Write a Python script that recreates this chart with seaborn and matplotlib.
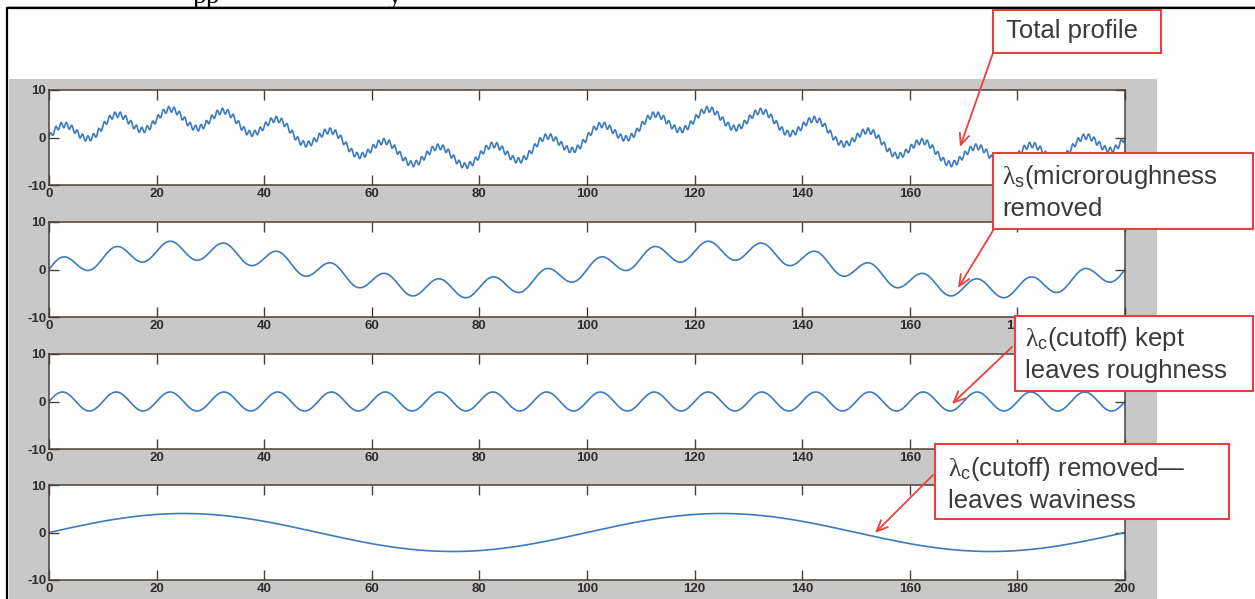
import numpy as np
import pandas as pd
import matplotlib
matplotlib.use("Agg")
import matplotlib.pyplot as plt
import seaborn as sns
from matplotlib.patches import Rectangle
from matplotlib.lines import Line2D

# Sinusoidal components of the surface profile (amplitude, wavelength)
component_names = ["waviness", "roughness", "microroughness"]
amplitudes = [4.0, 2.0, 0.6]
wavelengths = [100.0, 10.0, 1.0]

# Which components remain in each panel, top to bottom
panel_components = [[0, 1, 2], [0, 1], [1], [0]]

x_ticks = [0, 20, 40, 60, 80, 100, 120, 140, 160, 180, 200]
y_ticks = [-10, 0, 10]

callout_texts = [
    "Total profile",
    r"$\mathrm{\lambda}_{\mathsf{s}}$(microroughness" + "\nremoved",
    r"$\mathrm{\lambda}_{\mathsf{c}}$(cutoff) kept" + "\nleaves roughness",
    r"$\mathrm{\lambda}_{\mathsf{c}}$(cutoff) removed" + "\u2014\nleaves waviness",
]

# ---------------------------------------------------------------
W, H = 1255, 599
sns.set_style("ticks")
plt.rcParams["font.family"] = ["Liberation Sans", "DejaVu Sans"]
plt.rcParams["axes.unicode_minus"] = False
plt.rcParams["mathtext.fontset"] = "custom"
plt.rcParams["mathtext.rm"] = "Liberation Serif"
plt.rcParams["mathtext.sf"] = "Liberation Sans"
plt.rcParams["mathtext.it"] = "Liberation Serif:italic"

x = np.linspace(0, 200, 4001)
frames = []
for p, comps in enumerate(panel_components):
    y = np.zeros_like(x)
    for c in comps:
        y = y + amplitudes[c] * np.sin(2 * np.pi * x / wavelengths[c])
    frames.append(pd.DataFrame({"x": x, "height": y, "panel": p}))
df = pd.concat(frames, ignore_index=True)

fig = plt.figure(figsize=(W / 100, H / 100), dpi=100, facecolor="white")

# grey figure window behind the axes
fig.patches.append(Rectangle((9 / W, 0), (1157 - 9) / W, (H - 79) / H,
                             transform=fig.transFigure, facecolor="#c8c8c8",
                             edgecolor="none", zorder=-5))
# page frame lines
fig.add_artist(Line2D([7 / W, 1], [1 - 8 / H, 1 - 8 / H], color="black", lw=1.6))
fig.add_artist(Line2D([7 / W, 7 / W], [0, 1 - 8 / H], color="black", lw=1.6))
fig.add_artist(Line2D([7 / W, 1], [1 - 5.5 / H, 1 - 5.5 / H], color="#9a9a9a", lw=0.6))
# running text of the page above
fig.text(193 / W, 1 - 3 / H, "pp", family="Liberation Serif", fontsize=20,
         va="baseline", color="black")
fig.text(388 / W, 1 - 3 / H, "y", family="Liberation Serif", fontsize=20,
         va="baseline", color="black")

axes_px = [(90, 185), (222, 317), (354, 449), (485, 580)]
left, right = 49, 1125
frame_col = "#4a4038"
label_col = "#2e2e2e"

for p, (top, bottom) in enumerate(axes_px):
    ax = fig.add_axes([left / W, 1 - bottom / H, (right - left) / W, (bottom - top) / H],
                      zorder=2)
    ax.set_facecolor("white")
    sub = df[df["panel"] == p]
    sns.lineplot(data=sub, x="x", y="height", ax=ax, color="#3c7bbf",
                 lw=1.2, estimator=None)
    ax.set_xlim(0, 200)
    ax.set_ylim(-10, 10)
    ax.set_xticks(x_ticks)
    ax.set_yticks(y_ticks)
    ax.set_xlabel("")
    ax.set_ylabel("")
    ax.tick_params(direction="in", length=7, width=1.0, top=True, right=True,
                   color=frame_col, labelcolor=label_col, labelsize=9.5, pad=2)
    for lbl in ax.get_xticklabels() + ax.get_yticklabels():
        lbl.set_fontweight("bold")
    for s in ax.spines.values():
        s.set_color(frame_col)
        s.set_linewidth(1.1)

# overlay in pixel units for the callouts
ov = fig.add_axes([0, 0, 1, 1], zorder=20)
ov.set_xlim(0, W)
ov.set_ylim(H, 0)
ov.axis("off")
ov.patch.set_alpha(0)

red = "#e8413c"
boxes = [(993, 10, 1161, 53), (993, 153, 1253, 229),
         (1015, 316, 1253, 391), (935, 444, 1229, 519)]
text_pos = [(1006, 31), (1002, 192), (1025, 354), (948, 484)]
arrow_from = [(993, 53), (994, 229), (1012, 347), (933, 475)]
arrow_to = [(960, 147), (958, 288), (952, 404), (875, 533)]

for (x0, y0, x1, y1), (tx, ty), txt, a0, a1 in zip(boxes, text_pos, callout_texts,
                                                   arrow_from, arrow_to):
    ov.add_patch(Rectangle((x0, y0), x1 - x0, y1 - y0, facecolor="white",
                           edgecolor=red, lw=1.5))
    ov.text(tx, ty, txt, fontsize=18.5, color="#3a3a3a", va="center", ha="left",
            linespacing=1.3)
    ov.annotate("", xy=a1, xytext=a0,
                arrowprops=dict(arrowstyle="->,head_length=0.8,head_width=0.35",
                                color=red, lw=1.3, shrinkA=0, shrinkB=0))

fig.savefig("out.png", dpi=100, facecolor="white")
